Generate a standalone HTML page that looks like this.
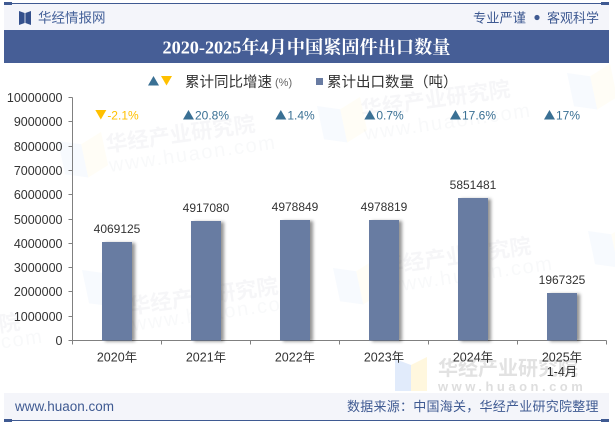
<!DOCTYPE html>
<html lang="zh">
<head>
<meta charset="utf-8">
<title>2020-2025年4月中国紧固件出口数量</title>
<style>
html,body{margin:0;padding:0;background:#fff;}
body{width:615px;height:427px;overflow:hidden;position:relative;}
svg{position:absolute;left:0;top:0;display:block;}
text{font-family:"Liberation Sans","Noto Sans CJK SC",sans-serif;}
.wm{font-weight:700;fill:#8a93a8;opacity:.07;font-size:21.500px;}
.wmu{fill:#8a93a8;opacity:.05;letter-spacing:1.700px;font-size:20px;}
</style>
</head>
<body>
<svg id="chart" width="615" height="427" viewBox="0 0 615 427" xmlns="http://www.w3.org/2000/svg">
  <defs>
    <filter id="barShadow" x="-30%" y="-10%" width="170%" height="120%">
      <feDropShadow dx="3" dy="1" stdDeviation="1.6" flood-color="#000" flood-opacity=".42"/>
    </filter>
    <g id="wmLogo">
      <polygon points="0,0 22,8 22,42 0,34" fill="#dce8fa" opacity=".22"/>
      <polygon points="22,8 44,0 44,34 22,42" fill="#fff6d8" opacity=".22"/>
    </g>
  </defs>

  <g id="watermarks">
    <use href="#wmLogo" transform="translate(58,141) rotate(-12)"/>
    <use href="#wmLogo" transform="translate(82,270) rotate(-12)"/>
    <use href="#wmLogo" transform="translate(333,268) rotate(-12)"/>
    <use href="#wmLogo" transform="translate(567,73) rotate(-12)"/>
    <use href="#wmLogo" transform="translate(317,106) rotate(-12)"/>
    <use href="#wmLogo" transform="translate(588,231) rotate(-12)"/>

    <text class="wm" x="107" y="152" transform="rotate(-8 107 152)">华经产业研究院</text>
    <text class="wmu" x="110" y="172" transform="rotate(-8 110 172)">www.huaon.com</text>
    <text class="wm" x="130" y="314" transform="rotate(-8 130 314)">华经产业研究院</text>
    <text class="wmu" x="133" y="331" transform="rotate(-8 133 331)">www.huaon.com</text>
    <text class="wm" x="383" y="274" transform="rotate(-8 383 274)">华经产业研究院</text>
    <text class="wmu" x="387" y="293" transform="rotate(-8 387 293)">www.huaon.com</text>
    <text class="wm" x="362" y="117" transform="rotate(-8 362 117)">华经产业研究院</text>
    <text class="wmu" x="365" y="140" transform="rotate(-8 365 140)">www.huaon.com</text>
    <text class="wm" x="-128" y="350" transform="rotate(-8 -128 350)">华经产业研究院</text>
    <text class="wmu" x="-123" y="366" transform="rotate(-8 -123 366)">www.huaon.com</text>

    <g>
      <polygon points="395,359 411,365 411,391 395,391" fill="#dce8fa" opacity=".85"/>
      <polygon points="411,365 427,357 427,391 411,391" fill="#fff6d8" opacity=".85"/>
      <text x="438" y="375" font-size="20" font-weight="700" fill="#d6d6d6" opacity=".7">华经产业研究院</text>
      <text x="438" y="391" font-size="13" font-weight="700" fill="#d6d6d6" opacity=".8" letter-spacing="3.500">www.huaon.com</text>
    </g>
  </g>

  <g id="frame">
    <rect x="4" y="4" width="605" height="26" fill="#f4f5fa"/>
    <rect x="4" y="3" width="605" height="1" fill="#3f5a92"/>
    <rect x="4" y="2" width="8" height="3" fill="#3f5a92"/>
    <rect x="601" y="2" width="8" height="3" fill="#3f5a92"/>
    <g>
      <polygon points="19,11 24.600,13 24.600,23 19,25" fill="#34508c"/>
      <polygon points="25.400,13 31,11 31,25 25.400,23" fill="#34508c"/>
    </g>
    <text x="38" y="22.500" font-size="13.500" fill="#46629a">华经情报网</text>
    <text x="473" y="22.500" font-size="13.250" fill="#3f5a92">专业严谨</text>
    <circle cx="537" cy="17.500" r="2.600" fill="#3f5a92"/>
    <text x="547" y="22.500" font-size="13" fill="#3f5a92">客观科学</text>
    <rect x="4" y="30" width="605" height="33" fill="#465e96"/>
    <text x="306.500" y="53.500" text-anchor="middle" font-size="18.200" font-weight="700" fill="#fff" style="font-family:'Liberation Serif','Noto Serif CJK SC',serif">2020-2025年4月中国紧固件出口数量</text>
    <rect x="4" y="393" width="605" height="27" fill="#f4f5fa"/>
    <rect x="4" y="420" width="605" height="1" fill="#3f5a92"/>
    <rect x="4" y="419" width="8" height="3" fill="#3f5a92"/>
    <rect x="601" y="419" width="8" height="3" fill="#3f5a92"/>
    <text x="15" y="411" font-size="13.500" fill="#3f5a92">www.huaon.com</text>
    <text x="347" y="411" font-size="13" fill="#3f5a92" letter-spacing=".250">数据来源：中国海关，华经产业研究院整理</text>
  </g>

  <g id="legend">
    <g>
      <polygon points="148,85.500 159,85.500 153.500,76" fill="#3a7094"/>
      <polygon points="161,76 172,76 166.500,85.500" fill="#ffc000"/>
      <text x="185" y="87" font-size="14.500" fill="#333">累计同比增速</text>
      <text x="275" y="86" font-size="11" fill="#666">(%)</text>
    </g>
    <g>
      <rect x="316" y="78" width="7" height="7" fill="#687ba2"/>
      <text x="327" y="87" font-size="14.500" fill="#333">累计出口数量（吨）</text>
    </g>
  </g>

  <g id="plot"></g>
</svg>

<script>
var categories = ["2020年", "2021年", "2022年", "2023年", "2024年", "2025年"];
var categorySubLabels = ["", "", "", "", "", "1-4月"];
var exportValues = [4069125, 4917080, 4978849, 4978819, 5851481, 1967325];
var growthRates = [-2.1, 20.8, 1.4, 0.7, 17.6, 17];
var yTickValues = [0, 1000000, 2000000, 3000000, 4000000, 5000000, 6000000, 7000000, 8000000, 9000000, 10000000];

var SVGNS = "http://www.w3.org/2000/svg";
var plot = document.getElementById("plot");
var plotLeft = 72.5, plotRight = 606.5, plotTop = 97.5, plotBottom = 340.5;
var yMax = 10000000;

function xBand(i) { return plotLeft + (plotRight - plotLeft) * i / categories.length; }
function xCenter(i) { return plotLeft + (plotRight - plotLeft) * (i + 0.5) / categories.length; }
function yScale(v) { return plotBottom - (plotBottom - plotTop) * v / yMax; }
function make(tag, parent) {
  var el = document.createElementNS(SVGNS, tag);
  parent.appendChild(el);
  return el;
}
function setAll(el, map) { for (var k in map) el.setAttribute(k, map[k]); }

var axisGroup = make("g", plot);



var yLine = make("line", axisGroup);
setAll(yLine, {x1: plotLeft, x2: plotLeft, y1: plotTop, y2: plotBottom, stroke: "#808080"});



yTickValues.forEach(function (v) {
  var y = Math.round(yScale(v) - 0.5) + 0.5;
  var tick = make("line", axisGroup);
  setAll(tick, {x1: plotLeft - 4, x2: plotLeft, y1: y, y2: y, stroke: "#808080"});
  
  
  var label = make("text", axisGroup);
  setAll(label, {x: plotLeft - 10, y: y + 4.5, "text-anchor": "end", "font-size": 12.5, fill: "#333"});
  label.textContent = String(v);
  
  
});

var xLine = make("line", axisGroup);
setAll(xLine, {x1: plotLeft, x2: plotRight, y1: plotBottom, y2: plotBottom, stroke: "#808080"});



for (var t = 0; t <= categories.length; t++) {
  var xt = Math.round(xBand(t) - 0.5) + 0.5;
  var xTick = make("line", axisGroup);
  setAll(xTick, {x1: xt, x2: xt, y1: plotBottom, y2: plotBottom + 4, stroke: "#808080"});
  
  
}

categories.forEach(function (c, i) {
  var label = make("text", axisGroup);
  setAll(label, {x: xCenter(i), y: 361.5, "text-anchor": "middle", "font-size": 12.5, fill: "#333"});
  label.textContent = c;
  
  
  if (categorySubLabels[i]) {
    var sub = make("text", axisGroup);
    setAll(sub, {x: xCenter(i), y: 376, "text-anchor": "middle", "font-size": 12.5, fill: "#333"});
    sub.textContent = categorySubLabels[i];
    
    
  }
});

var barGroup = make("g", plot);


var barWidth = 30;

exportValues.forEach(function (v, i) {
  var top = Math.round(yScale(v));
  var bar = make("rect", barGroup);
  setAll(bar, {
    x: xCenter(i) - barWidth / 2,
    y: top,
    width: barWidth,
    height: plotBottom - top,
    fill: "#687ba2",
    filter: "url(#barShadow)"
  });
  
  
  var val = make("text", barGroup);
  setAll(val, {x: xCenter(i), y: top - 9, "text-anchor": "middle", "font-size": 12, fill: "#333"});
  val.textContent = String(v);
  
  
});

var growthGroup = make("g", plot);



growthRates.forEach(function (g, i) {
  var down = g < 0;
  var color = down ? "#ffc000" : "#3a7094";
  var text = g + "%";
  var probe = make("text", growthGroup);
  setAll(probe, {"font-size": 12, y: 119.5, fill: color});
  probe.textContent = text;
  var textW = probe.getComputedTextLength();
  var triW = 11, gap = 1;
  var left = xCenter(i) - (triW + gap + textW) / 2;
  probe.setAttribute("x", left + triW + gap);
  
  
  var tri = make("polygon", growthGroup);
  var pts = down
    ? [[left, 110], [left + triW, 110], [left + triW / 2, 119.5]]
    : [[left, 119.5], [left + triW, 119.5], [left + triW / 2, 110]];
  tri.setAttribute("points", pts.map(function (p) { return p.join(","); }).join(" "));
  tri.setAttribute("fill", color);
  
  
});
</script>
</body>
</html>
